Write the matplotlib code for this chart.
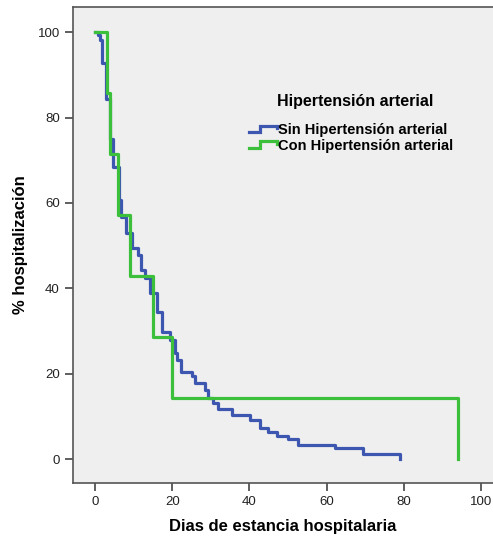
import numpy as np
import matplotlib
matplotlib.use('Agg')
import matplotlib.pyplot as plt
from matplotlib.lines import Line2D
from matplotlib.legend_handler import HandlerBase

plt.rcParams['font.family'] = ['Liberation Sans', 'DejaVu Sans']

# Kaplan-Meier style curves
# Sin hipertension arterial
sin_dias = [0, 0.8, 1.3, 1.8, 2.9, 3.9, 4.7, 6.2, 6.7, 8.0, 9.6, 11.1, 11.9, 13.0,
            14.3, 16.1, 17.4, 19.4, 20.7, 21.3, 22.3, 25.1, 26.0, 28.5, 29.3, 30.6,
            31.9, 35.5, 40.2, 42.7, 44.8, 47.2, 50.0, 52.6, 62.2, 69.4, 79.0]
sin_pct = [100, 99.3, 98.1, 92.7, 84.3, 75.0, 68.4, 60.7, 56.7, 53.0, 49.4, 47.8, 44.3, 42.4,
           38.9, 34.4, 29.7, 27.9, 24.8, 23.2, 20.4, 19.4, 17.8, 16.2, 14.3, 13.1,
           11.7, 10.3, 9.1, 7.3, 6.3, 5.4, 4.7, 3.3, 2.6, 1.2, 0]
# Con hipertension arterial
con_dias = [0, 3, 4, 6, 9, 15, 20, 94]
con_pct = [100, 85.7, 71.4, 57.1, 42.9, 28.6, 14.3, 0]

labels = ['Sin Hipertensión arterial', 'Con Hipertensión arterial']
colors = ['#3d56b0', '#3cc03c']


class StepHandler(HandlerBase):
    def create_artists(self, legend, orig_handle, xdescent, ydescent,
                       width, height, fontsize, trans):
        x0 = -xdescent
        y0 = -ydescent
        lo = y0 + height * 0.2
        hi = y0 + height * 0.85
        xs = [x0, x0 + width * 0.4, x0 + width * 0.4, x0 + width, x0 + width]
        ys = [lo, lo, hi, hi, y0 + height * 0.6]
        ln = Line2D(xs, ys, color=orig_handle.get_color(),
                    lw=orig_handle.get_linewidth(), solid_joinstyle='miter')
        ln.set_transform(trans)
        return [ln]


fig = plt.figure(figsize=(4.93, 5.41), dpi=100)
ax = fig.add_axes([73 / 493, 1 - 483 / 541, 420 / 493, 476 / 541])
ax.set_facecolor('#efefef')

h1, = ax.step(sin_dias, sin_pct, where='post', color=colors[0], lw=2.3)
h2, = ax.step(con_dias, con_pct, where='post', color=colors[1], lw=2.3)

ax.set_xlim(-5.7, 103.1)
ax.set_ylim(-5.6, 105.9)
ax.set_xticks([0, 20, 40, 60, 80, 100])
ax.set_yticks([0, 20, 40, 60, 80, 100])
ax.tick_params(direction='out', length=6, width=1.2, colors='#444444',
               labelcolor='#222222', labelsize=9.5)
for s in ['left', 'bottom', 'top']:
    ax.spines[s].set_color('#555555')
    ax.spines[s].set_linewidth(1.2)
ax.spines['right'].set_visible(False)

ax.set_xlabel('Dias de estancia hospitalaria', fontsize=12, fontweight='bold', labelpad=8)
ax.set_ylabel('% hospitalización', fontsize=12, fontweight='bold', labelpad=7)

fig.text(355 / 493, 1 - 102 / 541, 'Hipertensión arterial', ha='center', va='center',
         fontsize=11.5, fontweight='bold')
leg = ax.legend([h1, h2], labels, frameon=False,
                loc='upper left', bbox_to_anchor=(242 / 493, 1 - 116 / 541),
                bbox_transform=fig.transFigure, borderpad=0, handlelength=1.9,
                handletextpad=0.1, labelspacing=0.12,
                prop={'weight': 'bold', 'size': 10.5},
                handler_map={Line2D: StepHandler()})

fig.savefig('out.png', dpi=100)
